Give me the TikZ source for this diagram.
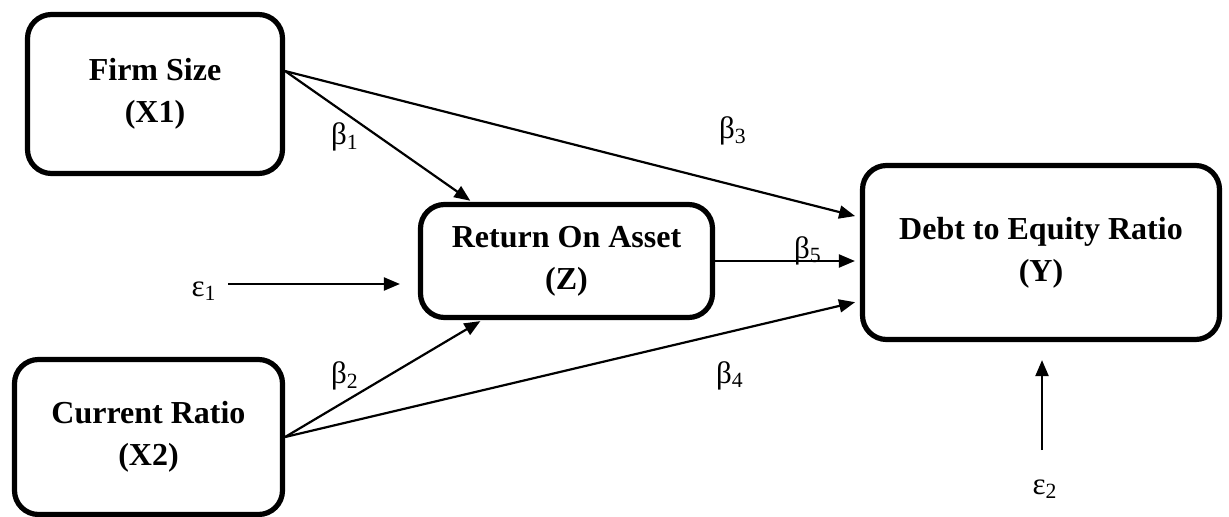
\documentclass[tikz,border=0pt]{standalone}
\usepackage{fontspec}
\setmainfont{Liberation Serif}
\usetikzlibrary{arrows.meta,calc}

\begin{document}
\begin{tikzpicture}[x=0.5pt,y=-0.5pt,
  var/.style={draw, line width=2.6pt, rounded corners=12pt, align=center,
    font=\fontsize{16}{21}\selectfont\bfseries, inner sep=0pt},
  arr/.style={line width=1.1pt, -{Triangle[length=8pt,width=6.5pt]}},
  lbl/.style={font=\fontsize{15.5}{18}\selectfont, inner sep=0pt}]
\useasboundingbox (0,0) rectangle (1229,517);

% variables
\node[var, minimum width=127.5pt, minimum height=79.5pt] (fs) at (155,94) {Firm Size\\(X1)};
\node[var, minimum width=134pt, minimum height=77.5pt] (cr) at (148.5,437) {Current Ratio\\(X2)};
\node[var, minimum width=146pt, minimum height=56.5pt] (roa) at (566.5,261) {Return On Asset\\(Z)};
\node[var, minimum width=178.5pt, minimum height=87pt] (der) at (1041,252.5) {Debt to Equity Ratio\\(Y)};

% paths
\draw[arr, shorten >=1pt] (fs.10) -- (roa.148);
\draw[arr, shorten >=2.5pt] (fs.10) -- (der.169);
\draw[arr, shorten >=2.5pt] (roa.east) -- (roa.east -| der.west);
\draw[arr, shorten >=1pt] (cr.east) -- (roa.215);
\draw[arr, shorten >=2.5pt] (cr.east) -- (der.195.5);

% error terms
\node[lbl] (e1) at (204,291) {ε\textsubscript{1}};
\node[lbl] (e2) at (1045,489) {ε\textsubscript{2}};
\coordinate (e1s) at (228,284);
\coordinate (e2s) at (1042,450);
\draw[arr, shorten >=9pt] (e1s) -- (e1s -| roa.west);
\draw[arr, shorten >=9pt] (e2s) -- (e2s |- der.south);

% coefficients
\node[lbl] (b1) at (345,137) {β\textsubscript{1}};
\node[lbl] (b2) at (345,376) {β\textsubscript{2}};
\node[lbl] (b3) at (733,131) {β\textsubscript{3}};
\node[lbl] (b4) at (730,376) {β\textsubscript{4}};
\node[lbl] (b5) at (808,251) {β\textsubscript{5}};
\end{tikzpicture}
\end{document}
